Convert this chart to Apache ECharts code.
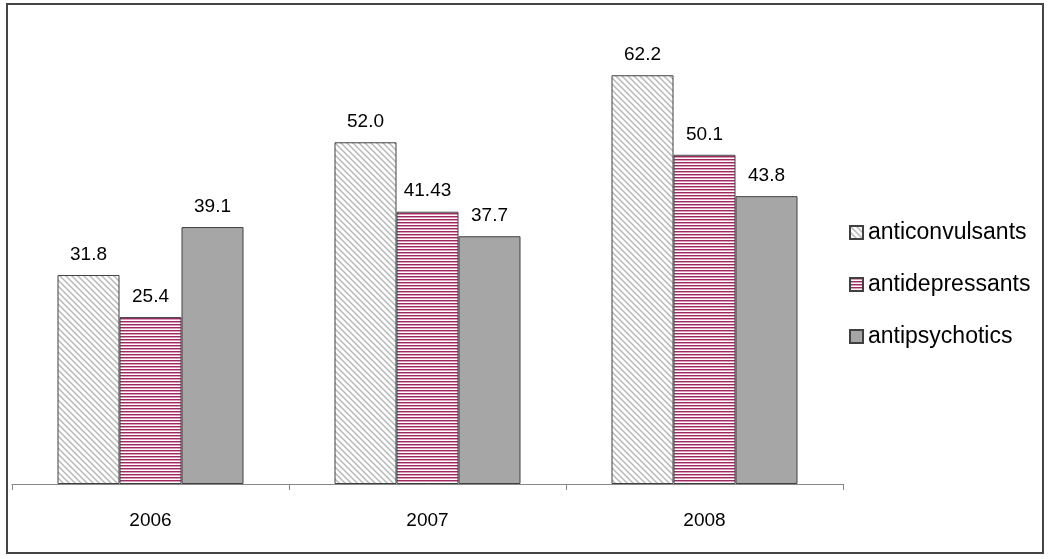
<!DOCTYPE html>
<html>
<head>
<meta charset="utf-8">
<script src="https://cdn.jsdelivr.net/npm/echarts@6/dist/echarts.min.js"></script>
<style>
  html, body { margin: 0; padding: 0; background: #fff; }
  #chart { width: 1050px; height: 559px; }
</style>
</head>
<body>
<div id="chart"></div>
<script>
// data
const years = ["2006", "2007", "2008"];
const anticonvulsants = [31.8, 52.0, 62.2];
const antidepressants = [25.4, 41.43, 50.1];
const antipsychotics = [39.1, 37.7, 43.8];
const labelText = {
  anticonvulsants: ["31.8", "52.0", "62.2"],
  antidepressants: ["25.4", "41.43", "50.1"],
  antipsychotics: ["39.1", "37.7", "43.8"]
};

// pattern fills like the old excel chart
function diagPattern() {
  const c = document.createElement("canvas");
  c.width = 6; c.height = 6;
  const ctx = c.getContext("2d");
  ctx.fillStyle = "#fff";
  ctx.fillRect(0, 0, 6, 6);
  ctx.strokeStyle = "#b8b8b8";
  ctx.lineWidth = 1.5;
  ctx.beginPath();
  ctx.moveTo(-1, -1); ctx.lineTo(7, 7);
  ctx.moveTo(-4, 2); ctx.lineTo(2, 8);
  ctx.moveTo(2, -4); ctx.lineTo(8, 2);
  ctx.stroke();
  return c;
}
function stripePattern() {
  const c = document.createElement("canvas");
  c.width = 3; c.height = 3;
  const ctx = c.getContext("2d");
  ctx.fillStyle = "#fff";
  ctx.fillRect(0, 0, 3, 3);
  ctx.fillStyle = "#9b2a62";
  ctx.fillRect(0, 0, 3, 1);
  ctx.fillStyle = "#dc9bb8";
  ctx.fillRect(0, 1, 3, 1);
  return c;
}

const myChart = echarts.init(document.getElementById("chart"));

function barSeries(name, data, fill, labels) {
  return {
    name: name,
    type: "bar",
    data: data,
    barWidth: 62,
    barGap: "0%",
    itemStyle: {
      color: fill,
      borderColor: "#404040",
      borderWidth: 1
    },
    label: {
      show: true,
      position: "top",
      distance: 11,
      color: "#000",
      fontSize: 19,
      fontFamily: "Liberation Sans",
      formatter: function(p) { return labels[p.dataIndex]; }
    }
  };
}

const option = {
  animation: false,
  backgroundColor: "#fff",
  graphic: [
    {
      type: "rect",
      shape: { x: 7, y: 4, width: 1036, height: 549 },
      style: { fill: "none", stroke: "#444", lineWidth: 2 },
      z: 100
    }
  ],
  grid: {
    left: 12,
    right: 207,
    top: 24,
    bottom: 75
  },
  legend: {
    orient: "vertical",
    left: 844,
    top: 216,
    itemWidth: 13,
    itemHeight: 13,
    itemGap: 29,
    icon: "rect",
    textStyle: {
      color: "#000",
      fontSize: 23,
      fontFamily: "Liberation Sans",
      padding: [0, 0, 0, 0]
    },
    data: ["anticonvulsants", "antidepressants", "antipsychotics"]
  },
  xAxis: {
    type: "category",
    data: years,
    axisLine: { lineStyle: { color: "#888", width: 1 } },
    axisTick: { show: true, length: 6, lineStyle: { color: "#888" } },
    axisLabel: {
      color: "#000",
      fontSize: 19,
      fontFamily: "Liberation Sans",
      margin: 27
    }
  },
  yAxis: {
    type: "value",
    min: 0,
    max: 70,
    show: false,
    splitLine: { show: false }
  },
  series: [
    barSeries("anticonvulsants", anticonvulsants, { image: diagPattern(), repeat: "repeat" }, labelText.anticonvulsants),
    barSeries("antidepressants", antidepressants, { image: stripePattern(), repeat: "repeat" }, labelText.antidepressants),
    barSeries("antipsychotics", antipsychotics, "#a6a6a6", labelText.antipsychotics)
  ]
};

myChart.setOption(option);
</script>
</body>
</html>
